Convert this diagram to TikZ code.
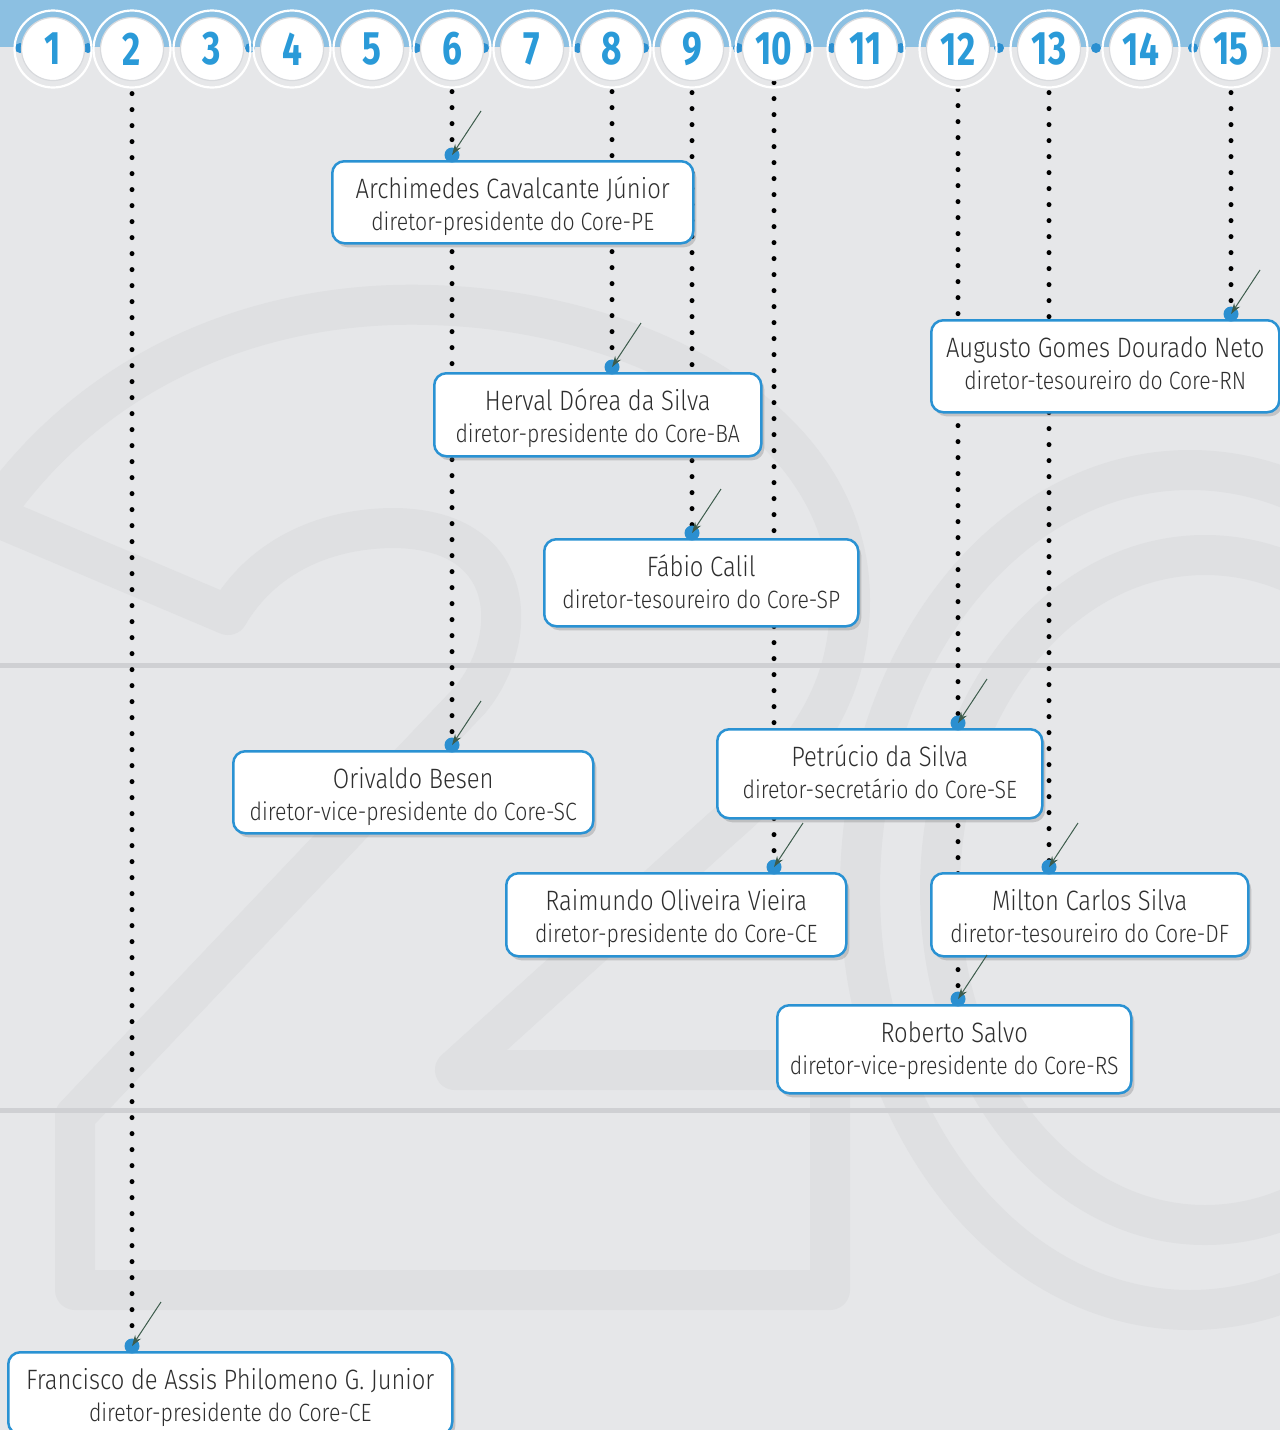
\documentclass[tikz,border=0pt]{standalone}
\usepackage{fontspec}
\usetikzlibrary{arrows.meta,shadows}
\IfFontExistsTF{Fira Sans Light}
  {\newfontfamily\boxfont{Fira Sans Light}[FakeStretch=0.85]}
  {\newfontfamily\boxfont{Fira Sans}[FakeStretch=0.85]}
\newfontfamily\numfont{Fira Sans}[FakeStretch=0.75]
\definecolor{bgc}{HTML}{E6E7E9}
\definecolor{wmc}{HTML}{DFE0E2}
\definecolor{divc}{HTML}{CFD0D3}
\definecolor{bandc}{HTML}{8CC0E2}
\definecolor{numc}{HTML}{2A9AD8}
\definecolor{boxb}{HTML}{2A92D3}
\definecolor{dotc}{HTML}{2B8FD0}
\definecolor{arrc}{HTML}{3D5C4C}
\definecolor{txtc}{HTML}{2E2E2E}
\definecolor{rimc}{HTML}{D8DADD}
\pgfdeclarelayer{wm}
\pgfdeclarelayer{dl}
\pgfsetlayers{wm,dl,main}
\newcommand\namef{\boxfont\fontsize{28}{32}\selectfont}
\newcommand\rolef{\boxfont\fontsize{25}{32}\selectfont}
\newcommand\twoline[3]{\vbox{\hsize=#1pt\parskip=0pt\centering\namef #2\par\rolef #3\par}}
\newcommand\person[8]{%
  \node[pbox, text depth=\fpeval{#5-69}pt] (#1) at (#2,#3) {\twoline{#4}{#6}{#7}};
  \node[pdot] (#1d) at (#8,#3-5) {};
  \coordinate (#1a) at (#8+29,#3-49);
  \draw[parr] (#1a) -- (#1d.center);
}
\tikzset{
  pbox/.style={draw=boxb, line width=2.5pt, fill=white, rounded corners=12pt,
    inner sep=0pt, anchor=north west, text=txtc, text height=69pt,
    drop shadow={shadow xshift=3pt, shadow yshift=-4pt, opacity=0.3, fill=black!55}},
  pdot/.style={circle, fill=dotc, minimum size=15pt, inner sep=0pt},
  parr/.style={draw=arrc, line width=1pt, -{Stealth[length=11pt, width=7pt]}},
  pdots/.style={draw=black, line width=5pt, line cap=round, dash pattern=on 0pt off 16pt},
  wmk/.style={draw=wmc, line width=40pt, line join=round},
  numnode/.style={circle, minimum size=77pt, inner sep=0pt, draw=white, line width=2.2pt,
    text=numc, font=\numfont\bfseries\fontsize{47}{47}\selectfont},
  hdot/.style={fill=dotc},
  divline/.style={draw=divc, line width=5pt}
}
\begin{document}
\begin{tikzpicture}[x=1pt, y=-1pt]
\useasboundingbox (0,0) rectangle (1280,1430);
\begin{pgfonlayer}{wm}
  \fill[bgc] (0,0) rectangle (1280,1430);
  \begin{scope}
    \clip (0,0) rectangle (1280,1430);
    \draw[wmk] (-8,515) .. controls (100,360) and (270,300) .. (430,305)
      .. controls (640,310) and (850,420) .. (850,600)
      .. controls (850,700) and (800,760) .. (720,830)
      -- (455,1070) -- (830,1070) -- (830,1290) -- (75,1290) -- (75,1116)
      -- (470,700) .. controls (520,640) and (520,530) .. (395,528)
      .. controls (320,528) and (260,560) .. (228,615) -- cycle;
    \draw[wmk] (1190,890) ellipse [x radius=330pt, y radius=420pt];
    \draw[wmk] (1205,890) ellipse [x radius=265pt, y radius=335pt];
  \end{scope}
  \draw[divline] (0,665) -- (1280,665);
  \draw[divline] (0,1110) -- (1280,1110);
\end{pgfonlayer}
% header
\fill[bandc] (0,0) rectangle (1280,47);
\foreach \hx in {20,88,250,416,484,578,644,738,807,832,901,999,1096,1193}
  \fill[hdot] (\hx,48) circle (5pt);
\foreach \n/\cx in {1/53,2/132,3/212,4/292,5/372,6/452,7/532,8/612,9/692,10/774,11/866,12/958,13/1049,14/1141,15/1231}{
  \filldraw[fill=white, draw=rimc, line width=1.2pt] (\cx,49) circle (31.5pt);
  \node[numnode] (c\n) at (\cx,49) {\n};
}
% people
\person{arch}{331}{160}{361}{82}{Archimedes Cavalcante Júnior}{diretor-presidente do Core-PE}{452}
\person{herv}{433}{372}{327}{83}{Herval Dórea da Silva}{diretor-presidente do Core-BA}{612}
\person{fabi}{543}{538}{314}{87}{Fábio Calil}{diretor-tesoureiro do Core-SP}{692}
\person{augu}{930}{319}{348}{92}{Augusto Gomes Dourado Neto}{diretor-tesoureiro do Core-RN}{1231}
\person{oriv}{232}{750}{360}{82}{Orivaldo Besen}{diretor-vice-presidente do Core-SC}{452}
\person{petr}{716}{728}{325}{89}{Petrúcio da Silva}{diretor-secretário do Core-SE}{958}
\person{raim}{505}{872}{340}{83}{Raimundo Oliveira Vieira}{diretor-presidente do Core-CE}{774}
\person{milt}{930}{872}{317}{83}{Milton Carlos Silva}{diretor-tesoureiro do Core-DF}{1049}
\person{robe}{776}{1004}{354}{88}{Roberto Salvo}{diretor-vice-presidente do Core-RS}{958}
\person{fran}{7}{1351}{444}{82}{Francisco de Assis Philomeno G. Junior}{diretor-presidente do Core-CE}{132}
% dotted lines
\begin{pgfonlayer}{dl}
  \draw[pdots] ([yshift=-5pt]c2.south) -- (c2.south |- frand.center);
  \draw[pdots] ([yshift=-3pt]c6.south) -- (c6.south |- orivd.center);
  \draw[pdots] ([yshift=-3pt]c8.south) -- (c8.south |- hervd.center);
  \draw[pdots] ([yshift=-4pt]c9.south) -- (c9.south |- fabid.center);
  \draw[pdots] ([yshift=6pt]c10.south) -- (c10.south |- raimd.center);
  \draw[pdots] ([yshift=-1pt]c12.south) -- (c12.south |- robed.center);
  \draw[pdots] ([yshift=-4pt]c13.south) -- (c13.south |- miltd.center);
  \draw[pdots] ([yshift=-4pt]c15.south) -- (c15.south |- augud.center);
\end{pgfonlayer}
\end{tikzpicture}
\end{document}
